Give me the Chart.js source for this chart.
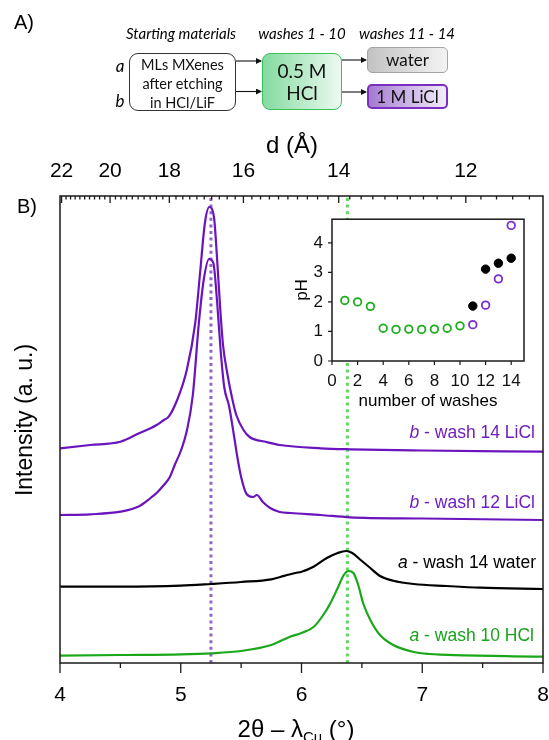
<!DOCTYPE html>
<html><head><meta charset="utf-8">
<script src="https://cdn.jsdelivr.net/npm/chart.js@4"></script>
<style>
html,body{margin:0;padding:0;background:#fff;}
#wrap{position:relative;width:549px;height:740px;overflow:hidden;font-family:"Liberation Sans",Arial,sans-serif;color:#000;}
.abs{position:absolute;white-space:nowrap;line-height:1;}
.c{transform:translate(-50%,-50%);}
.r{transform:translate(-100%,-50%);}
canvas{position:absolute;}
.box{position:absolute;box-sizing:border-box;font-family:Lato,"Open Sans",sans-serif;text-align:center;color:#111;}
.sch{font-family:Lato,"Open Sans",sans-serif;}
</style></head><body>
<div id="wrap">
<canvas id="main" width="549" height="740" style="left:0;top:0;width:549px;height:740px"></canvas>
<canvas id="inset" width="265" height="220" style="left:280px;top:200px;width:265px;height:220px"></canvas>

<!-- Part A schematic -->
<div class="abs c" style="left:24px;top:22px;font-size:20px">A)</div>
<div class="abs c sch" style="left:181px;top:33px;font-size:15px;font-style:italic">Starting materials</div>
<div class="abs c sch" style="left:302px;top:33px;font-size:15px;font-style:italic">washes 1 - 10</div>
<div class="abs c sch" style="left:407px;top:33px;font-size:15px;font-style:italic">washes 11 - 14</div>
<div class="abs c sch" style="left:120px;top:65px;font-size:17px;font-style:italic">a</div>
<div class="abs c sch" style="left:120px;top:100px;font-size:17px;font-style:italic">b</div>
<div class="box" style="left:129px;top:53px;width:107px;height:58px;border:1.5px solid #333;border-radius:9px;font-size:14.5px;line-height:19px;padding-top:1px">MLs MXenes<br>after etching<br>in HCl/LiF</div>
<div class="box" style="left:262px;top:53px;width:80px;height:57px;border:1.5px solid #38c05a;border-radius:8px;background:linear-gradient(to right,#84dba0,#ecf9f0);font-size:19px;line-height:22px;padding-top:6px">0.5 M<br>HCl</div>
<div class="box" style="left:367px;top:47px;width:81px;height:26px;border:1px solid #a5a5a5;border-radius:5px;background:linear-gradient(to right,#c2c2c2,#f3f3f3);font-size:17px;line-height:23px">water</div>
<div class="box" style="left:367px;top:84px;width:81px;height:25px;border:2px solid #7a2fc0;border-radius:5px;background:linear-gradient(to right,#a47bd0,#f3edfa);font-size:17px;line-height:21px">1 M LiCl</div>
<svg style="position:absolute;left:0;top:0" width="549" height="120">
<defs><marker id="ah" markerWidth="6" markerHeight="6" refX="5" refY="3" orient="auto" markerUnits="userSpaceOnUse"><path d="M0,0 L6,3 L0,6 z" fill="#111"/></marker></defs>
<g stroke="#111" stroke-width="1.1" fill="none">
<line x1="236" y1="61" x2="261" y2="61" marker-end="url(#ah)"/>
<line x1="236" y1="91.5" x2="261" y2="91.5" marker-end="url(#ah)"/>
<line x1="342" y1="60" x2="366" y2="60" marker-end="url(#ah)"/>
<line x1="342" y1="92" x2="366" y2="92" marker-end="url(#ah)"/>
</g></svg>

<!-- Part B texts -->
<div class="abs c" style="left:27px;top:206px;font-size:20px">B)</div>
<div class="abs c" style="left:292px;top:145px;font-size:24px">d (Å)</div>
<div class="abs c" style="left:24px;top:420px;font-size:23px;transform:translate(-50%,-50%) rotate(-90deg)">Intensity (a. u.)</div>
<div class="abs c" style="left:296px;top:729px;font-size:24px">2θ – λ<span style="font-size:15px;position:relative;top:5px">Cu</span> (°)</div>
<div class="abs r" style="left:535px;top:433px;font-size:17.5px;color:#6f1fc0"><i>b</i> - wash 14 LiCl</div>
<div class="abs r" style="left:535px;top:503px;font-size:17.5px;color:#6f1fc0"><i>b</i> - wash 12 LiCl</div>
<div class="abs r" style="left:536px;top:563px;font-size:17.5px;color:#000"><i>a</i> - wash 14 water</div>
<div class="abs r" style="left:534px;top:636px;font-size:17.5px;color:#1aa31a"><i>a</i> - wash 10 HCl</div>
<div class="abs c" style="left:428px;top:400px;font-size:17px">number of washes</div>
<div class="abs c" style="left:301px;top:290px;font-size:17px;transform:translate(-50%,-50%) rotate(-90deg)">pH</div>
</div>

<script>
// ---------- data ----------
// main XRD patterns: 2θ (deg) and intensity (arbitrary units, offset stacked)
const hclX = [4.0,4.5,5.0,5.25,5.5,5.75,5.9,6.0,6.1,6.18,6.24,6.3,6.35,6.39,6.43,6.47,6.51,6.57,6.65,6.76,6.93,7.06,7.34,7.75,8.0];
const hclY = [7.3,8,8.7,9.7,12,18,26,30,36,48,60,75,88,92,90,78,60,43,28,18,11,9,7.7,6.7,6.3];

const waterX = [4.0,4.5,5.0,5.25,5.5,5.75,5.83,5.95,6.0,6.1,6.21,6.3,6.37,6.42,6.49,6.57,6.65,6.76,6.93,7.2,7.48,8.0];
const waterY = [76.3,76.3,77.3,79,81,83.7,86.3,90,91.3,96.3,105,110,112,110,103,95,87,82.3,79,77,75.3,74];

const licl12X = [4.0,4.25,4.5,4.66,4.75,4.8,4.86,4.91,4.95,5.0,5.05,5.1,5.15,5.19,5.235,5.27,5.3,5.33,5.36,5.4,5.44,5.47,5.5,5.545,5.6,5.63,5.68,5.74,5.82,5.91,6.16,6.4,7.0,8.0];
const licl12Y = [148,148.7,151.3,157,165,170,178,186,198,212,232,268,340,383,404,400,363,313,276,257,228,205,186,169,166,168,161,155,151,150,148,145.7,144.5,143];

const licl14X = [4.0,4.25,4.5,4.66,4.75,4.8,4.86,4.9,4.97,5.05,5.12,5.16,5.2,5.236,5.275,5.3,5.326,5.35,5.385,5.425,5.46,5.52,5.57,5.71,5.82,6.16,6.4,7.0,8.0];
const licl14Y = [214.7,218,221.3,230,234.7,238,243,246.3,263,293,340,390,440,456,446,406,356,318,290,265,248,233,226,221,218,214.7,213.7,212.5,211.3];

// reference peak positions (dotted lines)
const peakLiCl = 5.25;
const peakHCl = 6.38;

// tick labels
const xTicks = [4,5,6,7,8];
const dMajor = [22,20,18,16,14,12];

// inset: pH vs number of washes
const washHCl = [1,2,3,4,5,6,7,8,9,10];
const phHCl   = [2.05,2.0,1.85,1.11,1.07,1.08,1.07,1.08,1.11,1.19];
const washB   = [11,12,13,14];
const phLiCl  = [1.23,1.89,2.78,4.59];
const washA   = [11,12,13,14];
const phWater = [1.86,3.11,3.31,3.48];

// ---------- helpers ----------
const FONT = '"Liberation Sans", Arial, sans-serif';
const LAMBDA = 1.5406;
const dToTT = d => 2*Math.asin(LAMBDA/(2*d))*180/Math.PI;
const pts = (xs, ys) => xs.map((x,i)=>({x, y: ys[i]}));
const YMAX = 467;

const PURPLE = '#6a14bd', GREEN = '#1aa81a';

const mainDeco = {
  id: 'mainDeco',
  afterDraw(chart){
    const {ctx, chartArea:a, scales:{x}} = chart;
    ctx.save();
    ctx.strokeStyle = '#1a1a1a';
    ctx.lineWidth = 1.5;
    ctx.strokeRect(a.left, a.top, a.right-a.left, a.bottom-a.top);
    ctx.lineWidth = 1.3;
    ctx.beginPath();
    for (let k = 8; k <= 16; k++) {
      const v = k/2, p = x.getPixelForValue(v);
      const L = (k % 2 === 0) ? 10 : 5;
      ctx.moveTo(p, a.bottom); ctx.lineTo(p, a.bottom + L);
    }
    for (let k = 55; k <= 115; k++) {
      const d = k/5, t = dToTT(d);
      if (t < 4 || t > 8) continue;
      const p = x.getPixelForValue(t);
      const L = (k % 10 === 0) ? 7 : 3.5;
      ctx.moveTo(p, a.top); ctx.lineTo(p, a.top + L);
    }
    ctx.stroke();
    ctx.restore();
  }
};

new Chart(document.getElementById('main'), {
  type: 'line',
  data: {
    datasets: [
      {data: pts(licl14X, licl14Y), borderColor: PURPLE},
      {data: pts(licl12X, licl12Y), borderColor: PURPLE},
      {data: pts(waterX, waterY), borderColor: '#000'},
      {data: pts(hclX, hclY), borderColor: GREEN},
      {data: [{x:peakLiCl,y:0},{x:peakLiCl,y:YMAX}], borderColor:'#9266c6', borderWidth:3, borderDash:[3,3.6], cubicInterpolationMode:'default', tension:0},
      {data: [{x:peakHCl,y:0},{x:peakHCl,y:YMAX}], borderColor:'#62d562', borderWidth:3, borderDash:[3,3.6], cubicInterpolationMode:'default', tension:0}
    ]
  },
  options: {
    responsive: false, animation: false, devicePixelRatio: 1,
    layout: {padding: {left: 60, right: 6, top: 0, bottom: 0}},
    elements: {
      line: {borderWidth: 2.2, cubicInterpolationMode: 'monotone', fill: false},
      point: {radius: 0}
    },
    plugins: {legend: {display: false}, tooltip: {enabled: false}},
    scales: {
      x: {
        type: 'linear', position: 'bottom', min: 4, max: 8,
        afterBuildTicks: s => { s.ticks = xTicks.map(v => ({value: v})); },
        afterFit: s => { s.height = 77; s.paddingLeft = 0; s.paddingRight = 0; },
        grid: {display: false, drawTicks: false}, border: {display: false},
        ticks: {autoSkip: false, maxRotation: 0, padding: 20, color: '#000', font: {family: FONT, size: 21}}
      },
      x2: {
        type: 'linear', position: 'top', min: 4, max: 8,
        afterBuildTicks: s => { s.ticks = dMajor.map(d => ({value: dToTT(d)})); },
        afterFit: s => { s.height = 196; s.paddingLeft = 0; s.paddingRight = 0; },
        grid: {display: false, drawTicks: false}, border: {display: false},
        ticks: {autoSkip: false, maxRotation: 0, padding: 12, color: '#000', font: {family: FONT, size: 21},
                callback: (v, i) => String(dMajor[i])}
      },
      y: {display: false, min: 0, max: YMAX}
    }
  },
  plugins: [mainDeco]
});

// ---------- inset ----------
const insetDeco = {
  id: 'insetDeco',
  beforeDraw(chart){
    const {ctx, chartArea:a} = chart;
    ctx.save(); ctx.fillStyle = '#fff';
    ctx.fillRect(a.left, a.top, a.right-a.left, a.bottom-a.top);
    ctx.restore();
  },
  afterDraw(chart){
    const {ctx, chartArea:a, scales:{x, y}} = chart;
    ctx.save();
    ctx.strokeStyle = '#1a1a1a'; ctx.lineWidth = 1.5;
    ctx.strokeRect(a.left, a.top, a.right-a.left, a.bottom-a.top);
    ctx.lineWidth = 1.2;
    ctx.beginPath();
    for (let v = 0; v <= 14; v += 2) { const p = x.getPixelForValue(v); ctx.moveTo(p, a.bottom); ctx.lineTo(p, a.bottom + 4); }
    for (let v = 0; v <= 4; v++) { const p = y.getPixelForValue(v); ctx.moveTo(a.left, p); ctx.lineTo(a.left - 4, p); }
    ctx.stroke();
    ctx.restore();
  }
};

new Chart(document.getElementById('inset'), {
  type: 'scatter',
  data: {
    datasets: [
      {data: pts(washA, phWater), pointRadius: 4.2, pointBorderWidth: 1, pointBackgroundColor: '#000', pointBorderColor: '#000'},
      {data: pts(washB, phLiCl), pointRadius: 3.8, pointBorderWidth: 1.8, pointBackgroundColor: '#fff', pointBorderColor: '#7a2fd0'},
      {data: pts(washHCl, phHCl), pointRadius: 3.8, pointBorderWidth: 1.8, pointBackgroundColor: '#fff', pointBorderColor: '#1fae1f'}
    ]
  },
  options: {
    responsive: false, animation: false, devicePixelRatio: 1,
    layout: {padding: {left: 0, right: 21, top: 15, bottom: 0}},
    plugins: {legend: {display: false}, tooltip: {enabled: false}},
    scales: {
      x: {
        type: 'linear', min: 0, max: 15,
        afterFit: s => { s.height = 59; s.paddingLeft = 0; s.paddingRight = 0; },
        grid: {display: false, drawTicks: false}, border: {display: false},
        ticks: {stepSize: 2, includeBounds: false, autoSkip: false, maxRotation: 0, padding: 10, color: '#111', font: {family: FONT, size: 17}}
      },
      y: {
        type: 'linear', min: 0, max: 4.8,
        afterFit: s => { s.width = 52; },
        grid: {display: false, drawTicks: false}, border: {display: false},
        ticks: {stepSize: 1, includeBounds: false, padding: 9, color: '#111', font: {family: FONT, size: 17}}
      }
    }
  },
  plugins: [insetDeco]
});
</script>
</body></html>
